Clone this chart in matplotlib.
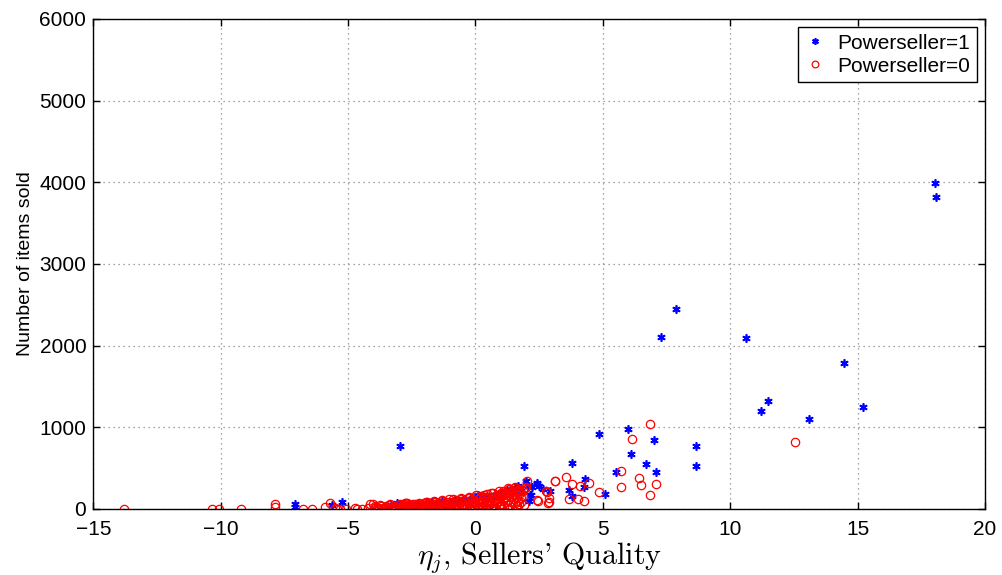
import matplotlib
matplotlib.use("Agg")
import matplotlib.pyplot as plt

# --- data (eta_j, items sold) ---

# Powerseller = 1 (blue asterisks)
ps1_x = [-7.08, -7.08, -5.64, -5.22, -3.32, -3.09, -2.95, -2.5, -2.2, -1.9,
         -1.71, -1.5, -1.32, -1.0, -0.8, -0.6, -0.4, -0.2, 0.0, 0.12,
         0.3, 0.45, 0.6, 0.75, 0.9, 1.0, 1.1, 1.23, 1.36, 1.45,
         1.55, 1.69, 1.75, 1.8, 1.91, 2.0, 2.05, 2.1, 2.15, 2.17,
         2.21, 2.43, 2.43, 2.51, 2.64, 2.93, 3.66, 3.78, 3.8, 4.28,
         4.3, 4.84, 5.1, 5.5, 5.97, 6.1, 6.71, 7.0, 7.1, 7.28,
         7.89, 8.64, 8.65, 10.63, 11.19, 11.48, 13.11, 14.45, 15.23, 18.02,
         18.09]
ps1_y = [65, 20, 53, 86, 49, 73, 767, 60, 50, 70,
         81, 75, 93, 90, 110, 95, 120, 110, 140, 175,
         130, 150, 115, 165, 140, 190, 160, 236, 236, 200,
         260, 277, 257, 220, 522, 338, 277, 93, 175, 175,
         270, 314, 310, 277, 249, 224, 237, 163, 559, 265,
         367, 920, 187, 455, 980, 670, 555, 840, 453, 2110,
         2446, 530, 767, 2087, 1201, 1327, 1103, 1784, 1245, 3995,
         3818]

# Powerseller = 0 (red circles)
ps0_x = [-13.8, -10.33, -10.05, -9.19, -7.88, -7.88, -6.78, -6.42, -5.9, -5.72,
         -5.5, -5.44, -5.3, -5.08, -4.73, -4.66, -4.46, -4.2, -4.14, -4.03, -3.87, -3.61,
         -2.74, -2.76,
         # band -4 .. -3
         -4.0, -3.9, -3.8, -3.7, -3.6, -3.5, -3.45, -3.4, -3.3, -3.25, -3.2, -3.1, -3.05, -3.0,
         # band -3 .. -2
         -2.95, -2.9, -2.85, -2.8, -2.75, -2.7, -2.65, -2.6, -2.55, -2.5,
         -2.45, -2.4, -2.35, -2.3, -2.25, -2.2, -2.15, -2.1, -2.05, -2.0,
         -2.92, -2.78, -2.62, -2.48, -2.33, -2.18, -2.03,
         # band -2 .. -1
         -1.95, -1.9, -1.85, -1.8, -1.75, -1.7, -1.65, -1.6, -1.55, -1.5,
         -1.45, -1.4, -1.35, -1.3, -1.25, -1.2, -1.15, -1.1, -1.05, -1.0,
         -1.9, -1.75, -1.6, -1.45, -1.3, -1.15, -1.02,
         # band -1 .. 0
         -0.95, -0.9, -0.85, -0.8, -0.75, -0.7, -0.65, -0.6, -0.55, -0.5,
         -0.45, -0.4, -0.35, -0.3, -0.25, -0.2, -0.15, -0.1, -0.05, 0.0,
         -0.9, -0.75, -0.6, -0.45, -0.3, -0.15, -0.02, -0.85, -0.55, -0.25, -0.05,
         # band 0 .. 1
         0.05, 0.1, 0.15, 0.2, 0.25, 0.3, 0.35, 0.4, 0.45, 0.5,
         0.55, 0.6, 0.65, 0.7, 0.75, 0.8, 0.85, 0.9, 0.95, 1.0,
         0.1, 0.2, 0.3, 0.4, 0.5, 0.6, 0.7, 0.8, 0.9, 1.0,
         0.15, 0.35, 0.55, 0.75, 0.95,
         # band 1 .. 1.9
         1.02, 1.05, 1.08, 1.1, 1.12, 1.15, 1.18, 1.2, 1.22, 1.25,
         1.28, 1.3, 1.32, 1.35, 1.38, 1.4, 1.42, 1.45, 1.48, 1.5,
         1.52, 1.55, 1.58, 1.6, 1.62, 1.65, 1.68, 1.7, 1.72, 1.75,
         1.78, 1.8, 1.85, 1.9,
         # upper edge of the cluster
         -3.95, -3.75, -3.55, -3.35, -3.15, -2.97, -2.83, -2.67, -2.53, -2.37,
         -2.23, -2.07, -1.93, -1.77, -1.63, -1.47, -1.33, -1.17, -1.03, -0.87,
         -0.73, -0.57, -0.43, -0.27, -0.13, 0.03, 0.17, 0.33, 0.47, 0.63,
         0.77, 0.93, 1.07, 1.27, 1.43, 1.57, 1.73, 1.87,
         # bottom row of the cluster
         -3.85, -3.65, -3.15, -2.87, -2.57, -2.27, -1.97, -1.67, -1.37, -1.07,
         -0.77, -0.47, -0.17, 0.13, 0.43, 0.73, 1.03, 1.33, 1.63,
         # scattered, right of the cluster
         1.88, 1.95, 2.0, 2.01, 2.43, 2.45, 2.76, 2.8, 2.86, 2.89,
         2.9, 3.11, 3.13, 3.55, 3.68, 3.81, 4.02, 4.11, 4.28, 4.46,
         4.84, 5.72, 5.72, 6.14, 6.43, 6.48, 6.86, 6.87, 7.1, 12.54]
ps0_y = [0, 0, 0, 0, 55, 20, 0, 0, 20, 75,
         10, 0, 0, 0, 5, 0, 0, 10, 65, 60, 0, 0,
         77, 73,
         10, 25, 5, 40, 15, 30, 8, 45, 20, 5, 35, 12, 50, 25,
         10, 40, 20, 60, 5, 30, 50, 15, 35, 8,
         55, 25, 45, 12, 30, 60, 18, 40, 6, 50,
         28, 12, 42, 22, 8, 35, 70,
         20, 55, 10, 70, 35, 5, 45, 80, 25, 60,
         15, 40, 75, 30, 8, 65, 50, 20, 85, 40,
         90, 15, 60, 30, 95, 50, 10,
         30, 90, 10, 60, 110, 45, 20, 80, 120, 55,
         5, 95, 35, 70, 130, 15, 100, 50, 85, 140,
         65, 25, 100, 40, 75, 115, 60, 5, 30, 10, 25,
         40, 120, 80, 160, 20, 100, 140, 60, 180, 30,
         110, 150, 70, 190, 10, 130, 90, 170, 50, 200,
         10, 60, 30, 120, 90, 10, 40, 130, 100, 150,
         90, 130, 50, 100, 20,
         60, 180, 120, 220, 30, 150, 90, 200, 10, 170,
         110, 240, 50, 190, 140, 80, 230, 20, 160, 260,
         120, 70, 210, 180, 40, 150, 100, 230, 60, 190,
         130, 90, 160, 50,
         30, 50, 20, 55, 40, 65, 45, 70, 30, 60,
         75, 40, 85, 60, 95, 70, 105, 80, 115, 125,
         90, 135, 105, 145, 120, 165, 130, 175, 150, 195,
         160, 215, 200, 250, 215, 270, 245, 220,
         0, 0, 0, 0, 0, 0, 0, 0, 0, 0,
         0, 0, 0, 0, 0, 0, 0, 0, 0,
         237, 257, 265, 338, 105, 102, 216, 203, 73, 135,
         86, 338, 343, 396, 126, 302, 122, 286, 102, 314,
         210, 463, 265, 853, 380, 298, 1035, 167, 310, 821]

x_ticks = [-15, -10, -5, 0, 5, 10, 15, 20]
y_ticks = [0, 1000, 2000, 3000, 4000, 5000, 6000]

plt.rcParams['font.family'] = ['Liberation Sans', 'DejaVu Sans']
plt.rcParams['mathtext.fontset'] = 'cm'

fig = plt.figure(figsize=(10.03, 5.75), dpi=100)
ax = fig.add_axes([0.093, 0.115, 0.889, 0.852])

ax.plot(ps1_x, ps1_y, linestyle='none', marker=(6, 2, 0), markersize=6,
        markeredgewidth=1.2, color='#0000ff', label='Powerseller=1')
ax.plot(ps0_x, ps0_y, linestyle='none', marker='o', markersize=6,
        markerfacecolor='none', markeredgewidth=0.9, color='#ff0000',
        label='Powerseller=0')

ax.set_xlim(-15, 20)
ax.set_ylim(0, 6000)
ax.set_xticks(x_ticks)
ax.set_yticks(y_ticks)
ax.tick_params(direction='in', length=5, width=1, labelsize=15,
               top=True, right=True)
ax.tick_params(axis='x', pad=8)
ax.tick_params(axis='y', pad=5)
for s in ax.spines.values():
    s.set_linewidth(1.0)

ax.grid(True, linestyle=(0, (1, 3)), color='#888888', linewidth=0.9)
ax.set_axisbelow(True)

ax.set_ylabel('Number of items sold', fontsize=14)
ax.set_xlabel(r"$\eta_j$, Sellers' Quality", fontsize=21.5, family='cmr10',
              labelpad=1)

leg = ax.legend(loc='upper right', fontsize=15, frameon=True, fancybox=False,
                framealpha=1, edgecolor='black', handlelength=1.0,
                handletextpad=0.6, borderaxespad=0.4, markerscale=0.8,
                labelspacing=0.2, borderpad=0.3)
leg.get_frame().set_linewidth(1.0)

fig.savefig('out.png', dpi=100)
